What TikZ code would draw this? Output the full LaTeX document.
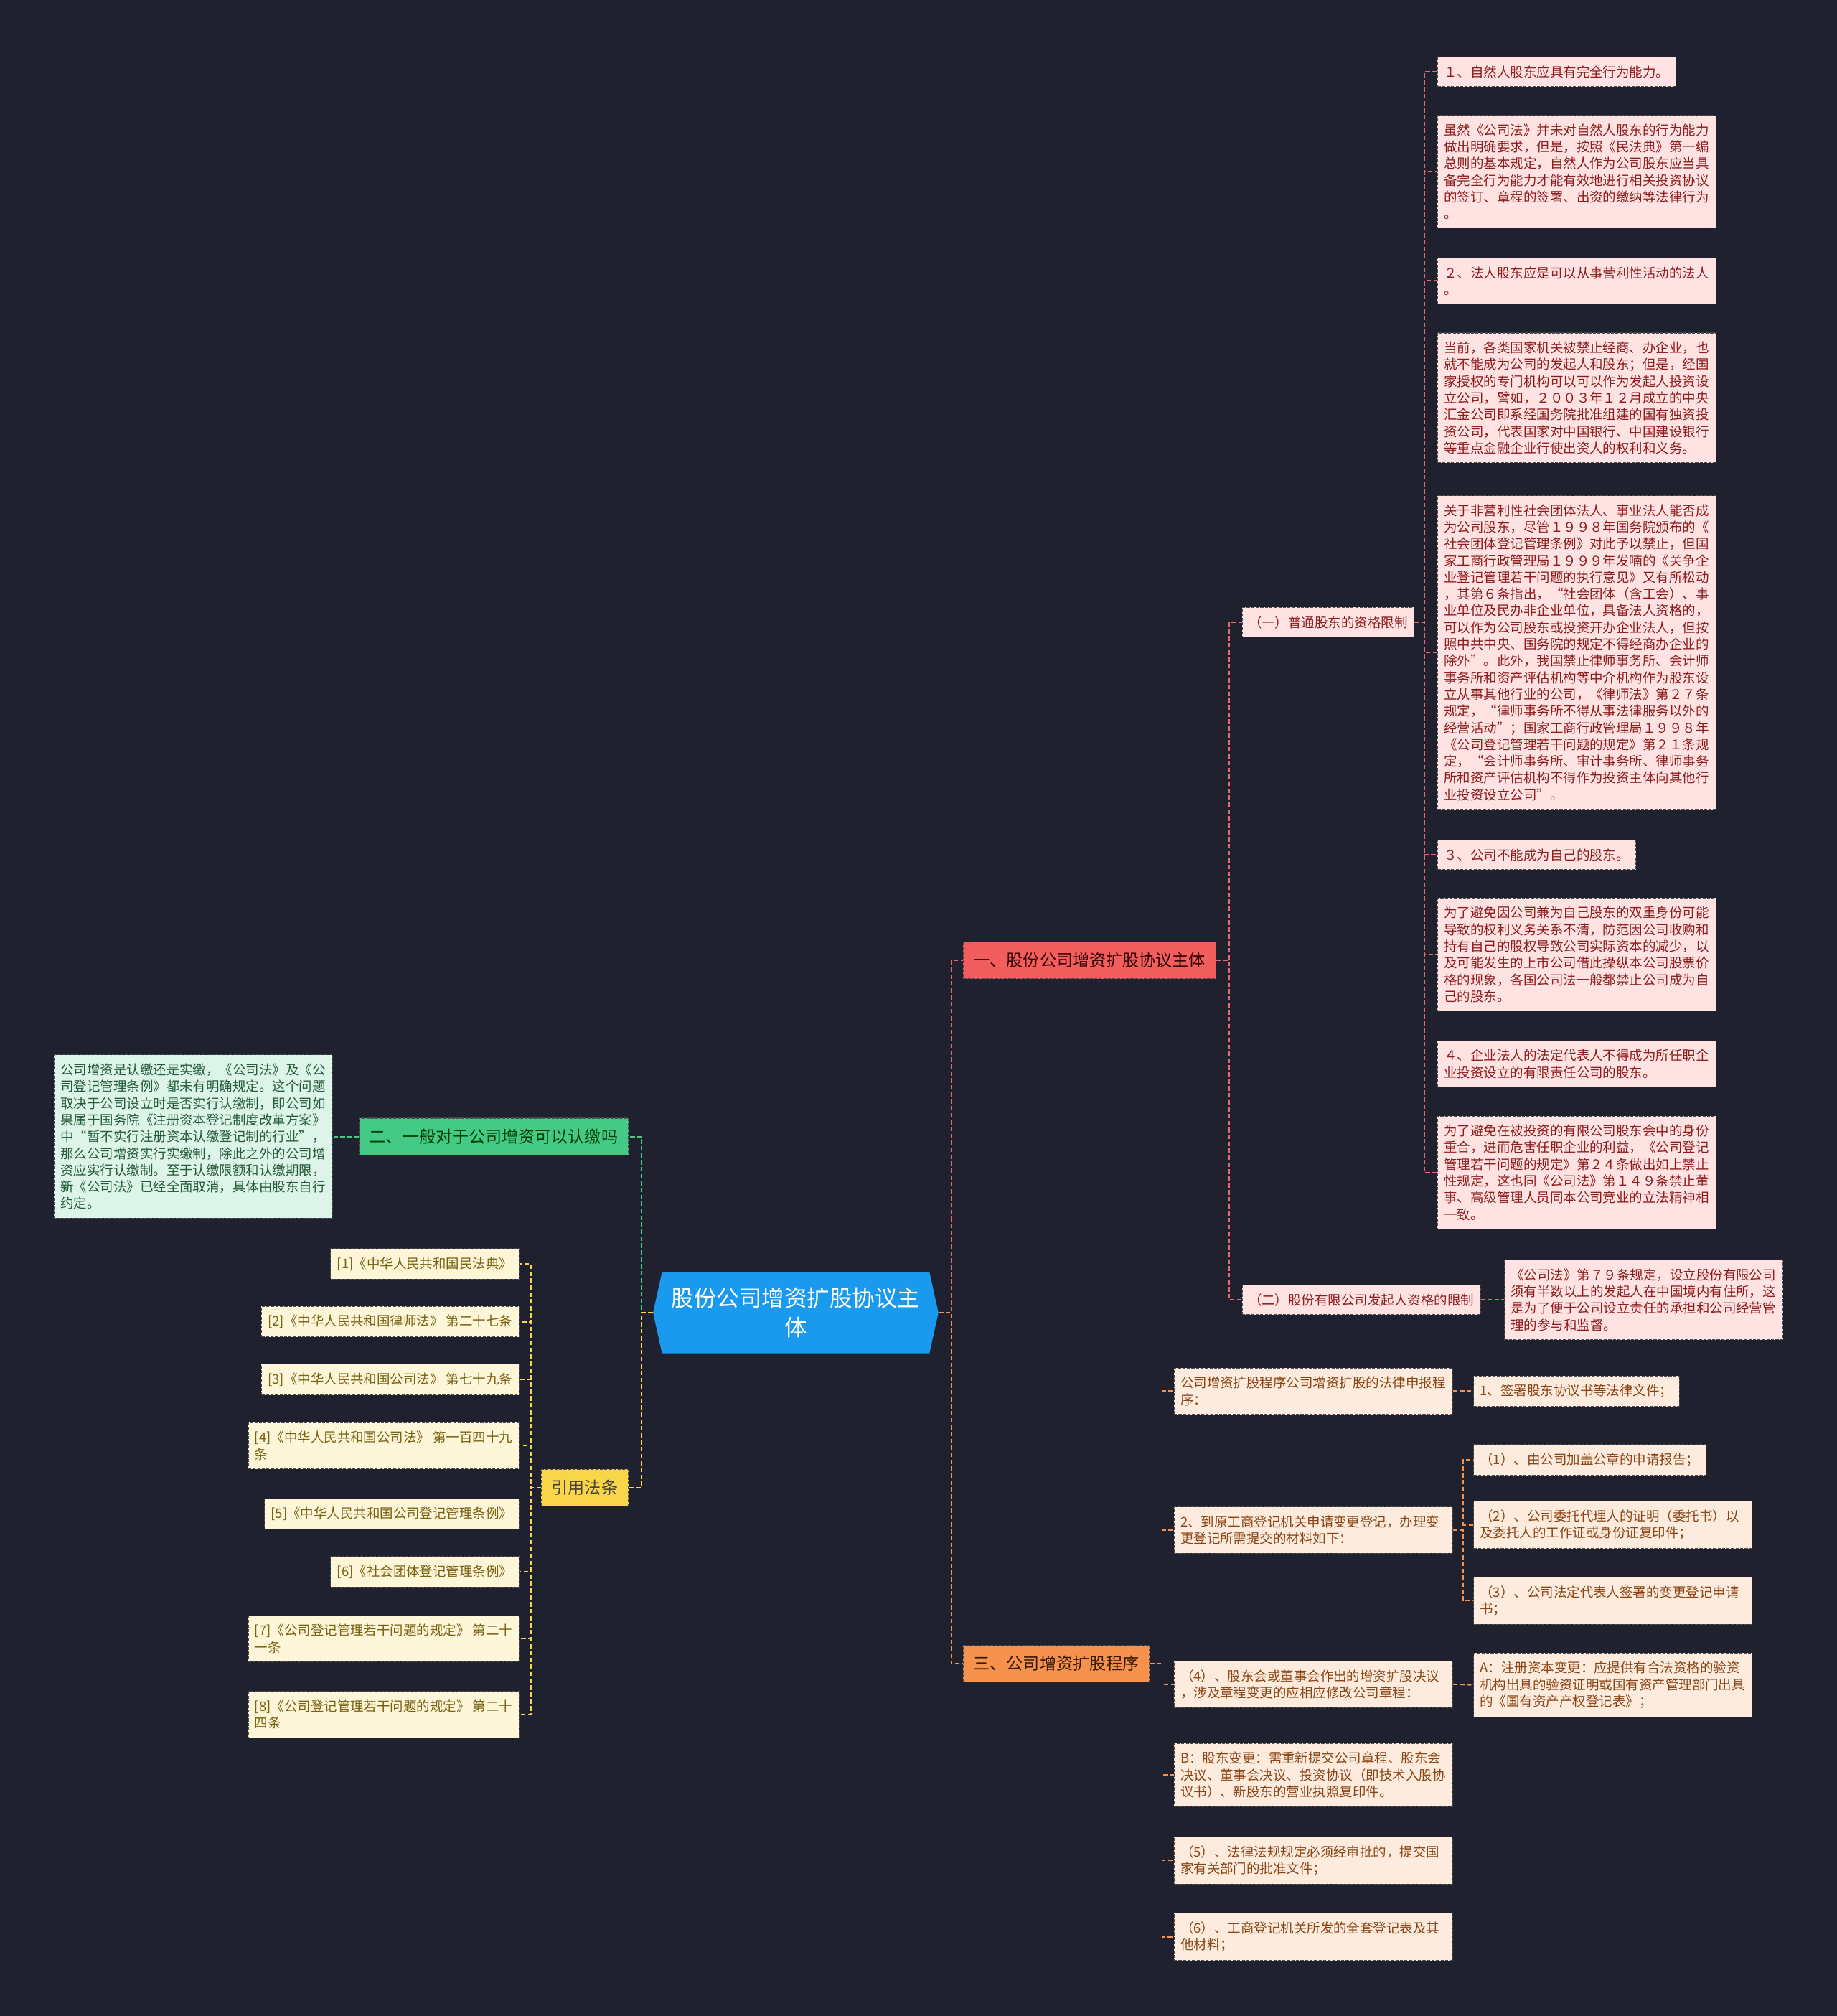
\documentclass[tikz,border=0pt]{standalone}
\usepackage{fontspec}
\newfontfamily\cjkfont{Noto Sans CJK SC}
\usepackage{tikz}
\usetikzlibrary{positioning, shapes.symbols}
\usepackage{xcolor}
\definecolor{Night}{HTML}{1F222E}
\definecolor{RootBlue}{HTML}{1A9AEF}
\definecolor{CoralRed}{HTML}{F25E5E}
\definecolor{CoralLine}{HTML}{E96A6A}
\definecolor{MintGreen}{HTML}{45C986}
\definecolor{SunYellow}{HTML}{F9D54A}
\definecolor{Tangerine}{HTML}{F7924E}
\definecolor{PinkBg}{HTML}{FFE3E3}
\definecolor{PinkInk}{HTML}{8E1C1C}
\definecolor{MintBg}{HTML}{DDF5E8}
\definecolor{MintInk}{HTML}{245C3B}
\definecolor{CreamBg}{HTML}{FEF6D8}
\definecolor{CreamInk}{HTML}{7A6213}
\definecolor{PeachBg}{HTML}{FDEBDD}
\definecolor{PeachInk}{HTML}{8A4515}
\definecolor{EdgeGrey}{HTML}{4A4A52}

\begin{document}
\begin{tikzpicture}[x=0.03cm, y=-0.03cm,
            boxline/.style={draw=EdgeGrey, line width=0.5pt, dash pattern=on 2pt off 1pt},
            leafbox/.style={boxline, inner xsep=0.15cm, inner ysep=0.2cm, align=left,
                  font=\cjkfont\fontsize{8.8}{11.1}\selectfont},
            pinkleaf/.style={leafbox, fill=PinkBg, text=PinkInk},
            pinkwide/.style={pinkleaf, text width=6.2cm},
            mintleaf/.style={leafbox, fill=MintBg, text=MintInk, text width=6.2cm},
            creamleaf/.style={leafbox, fill=CreamBg, text=CreamInk},
            peachleaf/.style={leafbox, fill=PeachBg, text=PeachInk},
            peachwide/.style={peachleaf, text width=6.2cm},
            branchbox/.style={boxline, inner xsep=0.24cm, inner ysep=0.25cm,
                  font=\cjkfont\fontsize{11}{13}\selectfont},
            rootbox/.style={signal, signal to=west and east, signal pointer angle=155,
                  fill=RootBlue, text=white, minimum width=6.66cm, minimum height=1.89cm,
                  inner sep=2pt, align=center, font=\cjkfont\fontsize{15}{19.6}\selectfont},
            link/.style={line width=0.9pt, dash pattern=on 3pt off 1.6pt}]
            \fill[Night] (0, 0) rectangle (1429, 1568);
            \useasboundingbox (0, 0) rectangle (1429, 1568);

            % centre
            \node[rootbox] (root) at (619, 1021) {股份公司增资扩股协议主\\体};

            % main branches
            \node[branchbox, fill=CoralRed, text=black!80!red, anchor=west] (one) at (749, 747)
                {一、股份公司增资扩股协议主体};
            \node[branchbox, fill=MintGreen, text=black!75!green, anchor=east] (two) at (489, 884)
                {二、一般对于公司增资可以认缴吗};
            \node[branchbox, fill=SunYellow, text=black!85!yellow, anchor=east] (laws) at (489, 1157)
                {引用法条};
            \node[branchbox, fill=Tangerine, text=black!80!orange, anchor=west] (three) at (749, 1294)
                {三、公司增资扩股程序};

            % branch one
            \node[pinkleaf, anchor=west] (gen) at (966, 484) {（一）普通股东的资格限制};
            \node[pinkleaf, anchor=west] (pro) at (966, 1011) {（二）股份有限公司发起人资格的限制};
            \node[pinkwide, anchor=west] (pro1) at (1170, 1011)
                {《公司法》第７９条规定，设立股份有限公司\\须有半数以上的发起人在中国境内有住所，这\\是为了便于公司设立责任的承担和公司经营管\\理的参与和监督。};

            \node[pinkleaf, anchor=west] (g1) at (1118, 56) {１、自然人股东应具有完全行为能力。};
            \node[pinkwide, anchor=west] (g2) at (1118, 133.5)
                {虽然《公司法》并未对自然人股东的行为能力\\做出明确要求，但是，按照《民法典》第一编\\总则的基本规定，自然人作为公司股东应当具\\备完全行为能力才能有效地进行相关投资协议\\的签订、章程的签署、出资的缴纳等法律行为\\。};
            \node[pinkwide, anchor=west] (g3) at (1118, 218.5)
                {２、法人股东应是可以从事营利性活动的法人\\。};
            \node[pinkwide, anchor=west] (g4) at (1118, 309.5)
                {当前，各类国家机关被禁止经商、办企业，也\\就不能成为公司的发起人和股东；但是，经国\\家授权的专门机构可以可以作为发起人投资设\\立公司，譬如，２００３年１２月成立的中央\\汇金公司即系经国务院批准组建的国有独资投\\资公司，代表国家对中国银行、中国建设银行\\等重点金融企业行使出资人的权利和义务。};
            \node[pinkwide, anchor=west] (g5) at (1118, 507.5)
                {关于非营利性社会团体法人、事业法人能否成\\为公司股东，尽管１９９８年国务院颁布的《\\社会团体登记管理条例》对此予以禁止，但国\\家工商行政管理局１９９９年发喃的《关争企\\业登记管理若干问题的执行意见》又有所松动\\，其第６条指出，“社会团体（含工会）、事\\业单位及民办非企业单位，具备法人资格的，\\可以作为公司股东或投资开办企业法人，但按\\照中共中央、国务院的规定不得经商办企业的\\除外”。此外，我国禁止律师事务所、会计师\\事务所和资产评估机构等中介机构作为股东设\\立从事其他行业的公司，《律师法》第２７条\\规定，“律师事务所不得从事法律服务以外的\\经营活动”；国家工商行政管理局１９９８年\\《公司登记管理若干问题的规定》第２１条规\\定，“会计师事务所、审计事务所、律师事务\\所和资产评估机构不得作为投资主体向其他行\\业投资设立公司”。};
            \node[pinkleaf, anchor=west] (g6) at (1118, 665) {３、公司不能成为自己的股东。};
            \node[pinkwide, anchor=west] (g7) at (1118, 742.5)
                {为了避免因公司兼为自己股东的双重身份可能\\导致的权利义务关系不清，防范因公司收购和\\持有自己的股权导致公司实际资本的减少，以\\及可能发生的上市公司借此操纵本公司股票价\\格的现象，各国公司法一般都禁止公司成为自\\己的股东。};
            \node[pinkwide, anchor=west] (g8) at (1118, 827.5)
                {４、企业法人的法定代表人不得成为所任职企\\业投资设立的有限责任公司的股东。};
            \node[pinkwide, anchor=west] (g9) at (1118, 912)
                {为了避免在被投资的有限公司股东会中的身份\\重合，进而危害任职企业的利益，《公司登记\\管理若干问题的规定》第２４条做出如上禁止\\性规定，这也同《公司法》第１４９条禁止董\\事、高级管理人员同本公司竞业的立法精神相\\一致。};

            % branch two
            \node[mintleaf, anchor=east] (two1) at (259, 884)
                {公司增资是认缴还是实缴，《公司法》及《公\\司登记管理条例》都未有明确规定。这个问题\\取决于公司设立时是否实行认缴制，即公司如\\果属于国务院《注册资本登记制度改革方案》\\中“暂不实行注册资本认缴登记制的行业”，\\那么公司增资实行实缴制，除此之外的公司增\\资应实行认缴制。至于认缴限额和认缴期限，\\新《公司法》已经全面取消，具体由股东自行\\约定。};

            % cited laws
            \node[creamleaf, anchor=east] (law1) at (404, 983) {[1]《中华人民共和国民法典》};
            \node[creamleaf, anchor=east] (law2) at (404, 1028) {[2]《中华人民共和国律师法》 第二十七条};
            \node[creamleaf, anchor=east] (law3) at (404, 1073) {[3]《中华人民共和国公司法》 第七十九条};
            \node[creamleaf, anchor=east] (law4) at (404, 1124.5) {[4]《中华人民共和国公司法》 第一百四十九\\条};
            \node[creamleaf, anchor=east] (law5) at (404, 1177.5) {[5]《中华人民共和国公司登记管理条例》};
            \node[creamleaf, anchor=east] (law6) at (404, 1222.5) {[6]《社会团体登记管理条例》};
            \node[creamleaf, anchor=east] (law7) at (404, 1274.5) {[7]《公司登记管理若干问题的规定》 第二十\\一条};
            \node[creamleaf, anchor=east] (law8) at (404, 1333.5) {[8]《公司登记管理若干问题的规定》 第二十\\四条};

            % branch three
            \node[peachwide, anchor=west] (st1) at (913, 1082)
                {公司增资扩股程序公司增资扩股的法律申报程\\序：};
            \node[peachwide, anchor=west] (st2) at (913, 1190)
                {2、到原工商登记机关申请变更登记，办理变\\更登记所需提交的材料如下：};
            \node[peachwide, anchor=west] (st3) at (913, 1310)
                {（4）、股东会或董事会作出的增资扩股决议\\，涉及章程变更的应相应修改公司章程：};
            \node[peachwide, anchor=west] (st4) at (913, 1380.5)
                {B：股东变更：需重新提交公司章程、股东会\\决议、董事会决议、投资协议（即技术入股协\\议书）、新股东的营业执照复印件。};
            \node[peachwide, anchor=west] (st5) at (913, 1447)
                {（5）、法律法规规定必须经审批的，提交国\\家有关部门的批准文件；};
            \node[peachwide, anchor=west] (st6) at (913, 1506.5)
                {（6）、工商登记机关所发的全套登记表及其\\他材料；};

            \node[peachleaf, anchor=west] (st1a) at (1146, 1082) {1、签署股东协议书等法律文件；};
            \node[peachleaf, anchor=west] (st2a) at (1146, 1135.5) {（1）、由公司加盖公章的申请报告；};
            \node[peachwide, anchor=west] (st2b) at (1146, 1186)
                {（2）、公司委托代理人的证明（委托书）以\\及委托人的工作证或身份证复印件；};
            \node[peachwide, anchor=west] (st2c) at (1146, 1245)
                {（3）、公司法定代表人签署的变更登记申请\\书；};
            \node[peachwide, anchor=west] (st3a) at (1146, 1310.5)
                {A：注册资本变更：应提供有合法资格的验资\\机构出具的验资证明或国有资产管理部门出具\\的《国有资产产权登记表》；};

            % hubs
            \coordinate (hubr) at (740, 1021);
            \coordinate (hubl) at (499, 1021);
            \coordinate (hubone) at (956, 747);
            \coordinate (hubgen) at (1108, 484);
            \coordinate (hublaw) at (413, 1157);
            \coordinate (hubthree) at (904, 1294);
            \coordinate (hubst) at (1138, 1190);

            % connectors
            \draw[link, CoralLine] (root.east) -- (hubr) |- (one.west);
            \draw[link, Tangerine] (root.east) -- (hubr) |- (three.west);
            \draw[link, MintGreen] (root.west) -- (hubl) |- (two.east);
            \draw[link, SunYellow] (root.west) -- (hubl) |- (laws.east);

            \draw[link, CoralLine] (one.east) -- (hubone) |- (gen.west);
            \draw[link, CoralLine] (one.east) -- (hubone) |- (pro.west);
            \draw[link, CoralLine] (pro.east) -- (pro1.west);
            \foreach \g in {g1, g2, g3, g4, g5, g6, g7, g8, g9}
                \draw[link, CoralLine] (gen.east) -- (hubgen) |- (\g.west);

            \draw[link, MintGreen] (two.west) -- (two1.east);
            \foreach \l in {law1, law2, law3, law4, law5, law6, law7, law8}
                \draw[link, SunYellow] (laws.west) -- (hublaw) |- (\l.east);

            \foreach \s in {st1, st2, st3, st4, st5, st6}
                \draw[link, Tangerine] (three.east) -- (hubthree) |- (\s.west);
            \draw[link, Tangerine] (st1.east) -- (st1a.west);
            \foreach \s in {st2a, st2b, st2c}
                \draw[link, Tangerine] (st2.east) -- (hubst) |- (\s.west);
            \draw[link, Tangerine] (st3.east) -- (st3a.west);
        \end{tikzpicture}
\end{document}
